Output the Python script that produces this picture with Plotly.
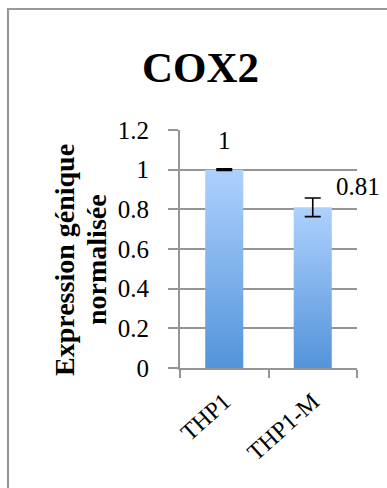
import plotly.graph_objects as go

# Data
categories = ["THP1", "THP1-M"]
values = [1.0, 0.81]
errors = [0.004, 0.047]
value_labels = ["1", "0.81"]
y_ticks = [0, 0.2, 0.4, 0.6, 0.8, 1.0, 1.2]

W, H = 387, 488
L, R, T, B = 180, 30, 130, 120
PW, PH = W - L - R, H - T - B

def px_x(px):
    return (px - L) / PW

def px_y(py):
    return (H - B - py) / PH

SERIF = "Liberation Serif"
GRID = "#959595"
BAR_W = 0.43
NUM_SIZE = 25

fig = go.Figure()

# Bars with a vertical light-to-dark blue gradient
for i, (cat, v) in enumerate(zip(categories, values)):
    x0, x1 = i - BAR_W / 2, i + BAR_W / 2
    fig.add_trace(go.Scatter(
        x=[x0, x0, x1, x1, x0], y=[0, v, v, 0, 0],
        mode="lines", line=dict(width=0), fill="toself",
        fillgradient=dict(type="vertical",
                          colorscale=[[0, "#5394da"], [1, "#aed1fe"]]),
        hoverinfo="skip", showlegend=False, name=cat,
    ))

# Error bars
fig.add_trace(go.Scatter(
    x=list(range(len(categories))), y=values, mode="markers",
    marker=dict(size=1, opacity=0),
    error_y=dict(type="data", array=errors, visible=True,
                 color="black", thickness=1.6, width=8),
    showlegend=False, hoverinfo="skip",
))

fig.update_layout(
    width=W, height=H,
    margin=dict(l=L, r=R, t=T, b=B, pad=0),
    paper_bgcolor="white", plot_bgcolor="white",
    font=dict(family=SERIF, size=NUM_SIZE, color="black"),
    showlegend=False,
)

fig.update_xaxes(
    range=[-0.5, 1.5], tickvals=list(range(len(categories))),
    ticktext=categories, ticks="", tickangle=-42,
    tickfont=dict(family=SERIF, size=24), ticklabelstandoff=8,
    showgrid=False, zeroline=False,
    showline=True, linecolor=GRID, linewidth=2,
    minor=dict(tickvals=[-0.5, 0.5, 1.5], ticks="outside",
               ticklen=8, tickcolor=GRID, tickwidth=2, showgrid=False),
)
fig.update_yaxes(
    range=[0, 1.2], tickvals=y_ticks,
    ticktext=[f"{t:g}" for t in y_ticks],
    ticks="outside", ticklen=10, tickcolor=GRID, tickwidth=2,
    tickfont=dict(family=SERIF, size=NUM_SIZE), ticklabelstandoff=14,
    showgrid=True, gridcolor=GRID, gridwidth=2,
    zeroline=False, showline=True, linecolor=GRID, linewidth=2,
)

# Outer frame
fig.add_shape(type="rect", xref="paper", yref="paper",
              x0=px_x(8), x1=px_x(420), y0=px_y(520), y1=px_y(9),
              line=dict(color="#999999", width=2.2), fillcolor="rgba(0,0,0,0)")

# Title
fig.add_annotation(text="<b>COX2</b>", xref="paper", yref="paper",
                   x=px_x(200), y=px_y(67), xanchor="center", yanchor="middle",
                   showarrow=False, font=dict(family=SERIF, size=43))

# Y-axis title, two lines
fig.add_annotation(text="<b>Expression génique</b>", xref="paper", yref="paper",
                   x=px_x(64), y=px_y(260), xanchor="center", yanchor="middle",
                   textangle=-90, showarrow=False, font=dict(family=SERIF, size=28))
fig.add_annotation(text="<b>normalisée</b>", xref="paper", yref="paper",
                   x=px_x(96), y=px_y(260), xanchor="center", yanchor="middle",
                   textangle=-90, showarrow=False, font=dict(family=SERIF, size=28))

# Value labels
shifts = [(0, 29), (45, 21)]
for i, (v, lab) in enumerate(zip(values, value_labels)):
    fig.add_annotation(text=lab, x=i, y=v, xref="x", yref="y",
                       xshift=shifts[i][0], yshift=shifts[i][1],
                       xanchor="center", yanchor="middle", showarrow=False,
                       font=dict(family=SERIF, size=NUM_SIZE))

fig.write_html("out.html")
